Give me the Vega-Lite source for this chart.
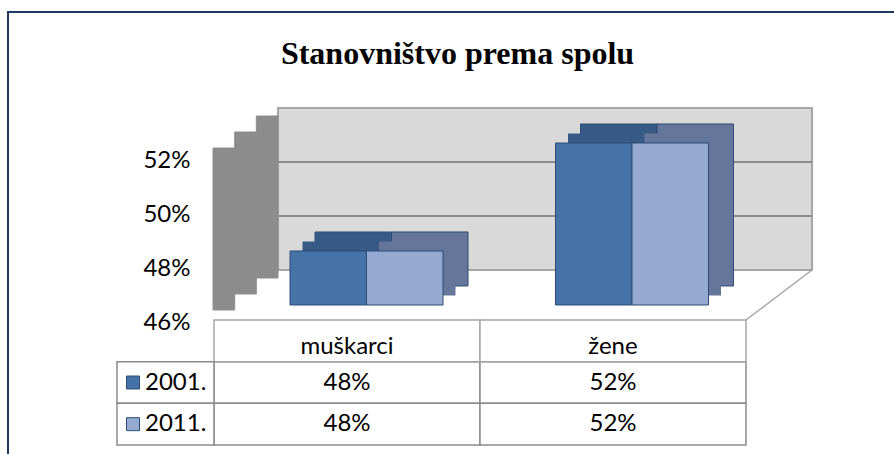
{
  "$schema": "https://vega.github.io/schema/vega-lite/v6.json",
  "width": 894,
  "height": 454,
  "autosize": {"type": "fit", "contains": "padding"},
  "padding": {"left": 8, "top": 12, "right": -3, "bottom": -3},
  "background": "white",
  "title": {
    "text": "Stanovništvo prema spolu",
    "font": "Liberation Serif",
    "fontSize": 32,
    "fontWeight": "bold",
    "color": "#000000",
    "anchor": "middle",
    "frame": "group",
    "orient": "top",
    "baseline": "middle",
    "offset": -43,
    "dx": 5,
    "dy": 31
  },
  "config": {
    "view": {"stroke": "#1F3A60", "strokeWidth": 2},
    "text": {"font": "Lato", "fontSize": 24, "fill": "#000000"}
  },
  "datasets": {
    "udio": [
      {"spol": "muškarci", "godina": "2001.", "udio": 0.48},
      {"spol": "muškarci", "godina": "2011.", "udio": 0.48},
      {"spol": "žene", "godina": "2001.", "udio": 0.52},
      {"spol": "žene", "godina": "2011.", "udio": 0.52}
    ],
    "jedan": [{"k": 1}],
    "mreza": [{"g": 0.48}, {"g": 0.50}]
  },
  "data": {"name": "udio"},
  "layer": [
    {
      "data": {"name": "jedan"},
      "mark": {"type": "rect", "fill": "#D9D9D9", "stroke": "#A6A6A6", "strokeWidth": 2},
      "encoding": {
        "x": {"datum": "muškarci", "type": "nominal", "bandPosition": 0.1667, "scale": {"type": "band", "domain": ["muškarci", "žene"], "paddingInner": 0, "paddingOuter": 0.6742, "align": 0.6306}, "axis": null},
        "x2": {"datum": "žene", "bandPosition": 1.178},
        "y": {"datum": 0.46, "type": "quantitative", "scale": {"domain": [0.39074, 0.55556], "nice": false, "zero": false}, "axis": null},
        "y2": {"datum": 0.52}
      }
    },
    {
      "data": {"name": "mreza"},
      "mark": {"type": "rule", "stroke": "#8C8C8C", "strokeWidth": 2},
      "encoding": {
        "x": {"datum": "muškarci", "type": "nominal", "bandPosition": 0.1667, "scale": {"type": "band", "domain": ["muškarci", "žene"], "paddingInner": 0, "paddingOuter": 0.6742, "align": 0.6306}, "axis": null},
        "x2": {"datum": "žene", "bandPosition": 1.178},
        "y": {"field": "g", "type": "quantitative", "scale": {"domain": [0.39074, 0.55556], "nice": false, "zero": false}, "axis": null}
      }
    },
    {
      "data": {"name": "jedan"},
      "mark": {"type": "rule", "stroke": "#A6A6A6", "strokeWidth": 1.5},
      "encoding": {
        "x": {"datum": "žene", "type": "nominal", "bandPosition": 0.929, "scale": {"type": "band", "domain": ["muškarci", "žene"], "paddingInner": 0, "paddingOuter": 0.6742, "align": 0.6306}, "axis": null},
        "x2": {"datum": "žene", "bandPosition": 1.178},
        "y": {"datum": 0.44148, "type": "quantitative", "scale": {"domain": [0.39074, 0.55556], "nice": false, "zero": false}, "axis": null},
        "y2": {"datum": 0.46}
      }
    },
    {
      "data": {"name": "jedan"},
      "mark": {"type": "rect", "fill": "#8C8C8C", "stroke": "#8C8C8C", "strokeWidth": 1, "yOffset": 5, "y2Offset": 5},
      "encoding": {
        "x": {"datum": "muškarci", "type": "nominal", "bandPosition": -0.078, "scale": {"type": "band", "domain": ["muškarci", "žene"], "paddingInner": 0, "paddingOuter": 0.6742, "align": 0.6306}, "axis": null},
        "x2": {"datum": "muškarci", "bandPosition": 0.0036},
        "y": {"datum": 0.46, "type": "quantitative", "scale": {"domain": [0.4037, 0.56852], "nice": false, "zero": false}, "axis": null},
        "y2": {"datum": 0.52}
      }
    },
    {
      "data": {"name": "jedan"},
      "mark": {"type": "rect", "fill": "#8C8C8C", "stroke": "#8C8C8C", "strokeWidth": 1, "yOffset": -11, "y2Offset": -11},
      "encoding": {
        "x": {"datum": "muškarci", "type": "nominal", "bandPosition": 0.0036, "scale": {"type": "band", "domain": ["muškarci", "žene"], "paddingInner": 0, "paddingOuter": 0.6742, "align": 0.6306}, "axis": null},
        "x2": {"datum": "muškarci", "bandPosition": 0.085},
        "y": {"datum": 0.46, "type": "quantitative", "scale": {"domain": [0.4037, 0.56852], "nice": false, "zero": false}, "axis": null},
        "y2": {"datum": 0.52}
      }
    },
    {
      "data": {"name": "jedan"},
      "mark": {"type": "rect", "fill": "#8C8C8C", "stroke": "#8C8C8C", "strokeWidth": 1, "yOffset": -27, "y2Offset": -27},
      "encoding": {
        "x": {"datum": "muškarci", "type": "nominal", "bandPosition": 0.085, "scale": {"type": "band", "domain": ["muškarci", "žene"], "paddingInner": 0, "paddingOuter": 0.6742, "align": 0.6306}, "axis": null},
        "x2": {"datum": "muškarci", "bandPosition": 0.1667},
        "y": {"datum": 0.46, "type": "quantitative", "scale": {"domain": [0.4037, 0.56852], "nice": false, "zero": false}, "axis": null},
        "y2": {"datum": 0.52}
      }
    },
    {
      "mark": {"type": "bar", "yOffset": -19, "y2Offset": -19, "stroke": "#2C4D75", "strokeWidth": 1},
      "encoding": {
        "x": {"field": "spol", "type": "nominal", "scale": {"type": "band", "domain": ["muškarci", "žene"], "paddingInner": 0, "paddingOuter": 0.6742, "align": 0.6306}, "axis": null},
        "xOffset": {"field": "godina", "type": "nominal", "scale": {"type": "band", "domain": ["2001.", "2011."], "paddingInner": 0, "paddingOuter": 0.7353, "align": 0.7222}},
        "y": {"field": "udio", "type": "quantitative", "scale": {"domain": [0.4037, 0.56852], "nice": false, "zero": false}, "axis": null},
        "y2": {"datum": 0.46},
        "color": {"condition": {"test": "datum.godina === '2001.'", "value": "#375A87"}, "value": "#66769A"}
      }
    },
    {
      "mark": {"type": "bar", "yOffset": -9.5, "y2Offset": -9.5},
      "encoding": {
        "x": {"field": "spol", "type": "nominal", "scale": {"type": "band", "domain": ["muškarci", "žene"], "paddingInner": 0, "paddingOuter": 0.6742, "align": 0.6306}, "axis": null},
        "xOffset": {"field": "godina", "type": "nominal", "scale": {"type": "band", "domain": ["2001.", "2011."], "paddingInner": 0, "paddingOuter": 0.7353, "align": 0.6111}},
        "y": {"field": "udio", "type": "quantitative", "scale": {"domain": [0.4037, 0.56852], "nice": false, "zero": false}, "axis": null},
        "y2": {"datum": 0.46},
        "color": {"condition": {"test": "datum.godina === '2001.'", "value": "#375A87"}, "value": "#66769A"}
      }
    },
    {
      "mark": {"type": "bar", "stroke": "#2C4D75", "strokeWidth": 1},
      "encoding": {
        "x": {"field": "spol", "type": "nominal", "scale": {"type": "band", "domain": ["muškarci", "žene"], "paddingInner": 0, "paddingOuter": 0.6742, "align": 0.6306}, "axis": null},
        "xOffset": {"field": "godina", "type": "nominal", "scale": {"type": "band", "domain": ["2001.", "2011."], "paddingInner": 0, "paddingOuter": 0.7353}},
        "y": {
          "field": "udio",
          "type": "quantitative",
          "scale": {"domain": [0.4037, 0.56852], "nice": false, "zero": false},
          "axis": {
            "orient": "left",
            "values": [0.46, 0.48, 0.50, 0.52],
            "format": ".0%",
            "domain": false,
            "ticks": false,
            "grid": false,
            "title": null,
            "labelPadding": 4,
            "offset": -186,
            "labelOffset": 18,
            "labelFont": "Lato",
            "labelFontSize": 24,
            "labelColor": "#000000"
          }
        },
        "y2": {"datum": 0.46},
        "color": {"field": "godina", "type": "nominal", "scale": {"domain": ["2001.", "2011."], "range": ["#4572A7", "#95A9D1"]}, "legend": null}
      }
    },
    {
      "mark": {"type": "rect", "fill": "white", "stroke": "#8C8C8C", "strokeWidth": 1.5},
      "encoding": {
        "x": {"field": "spol", "type": "nominal", "scale": {"type": "band", "domain": ["muškarci", "žene"], "paddingInner": 0, "paddingOuter": 0.6711, "align": 0.577}, "axis": null},
        "y": {"field": "godina", "type": "nominal", "scale": {"type": "band", "domain": ["hdr", "2001.", "2011."], "range": [308, 433], "paddingInner": 0, "paddingOuter": 0}, "axis": null}
      }
    },
    {
      "transform": [{"filter": "datum.godina === '2001.'"}],
      "mark": {"type": "rect", "fill": "white", "stroke": "#A6A6A6", "strokeWidth": 1.5},
      "encoding": {
        "x": {"field": "spol", "type": "nominal", "scale": {"type": "band", "domain": ["muškarci", "žene"], "paddingInner": 0, "paddingOuter": 0.6711, "align": 0.577}, "axis": null},
        "y": {"datum": "hdr", "type": "nominal", "scale": {"type": "band", "domain": ["hdr", "2001.", "2011."], "range": [308, 433], "paddingInner": 0, "paddingOuter": 0}, "axis": null}
      }
    },
    {
      "mark": {"type": "text"},
      "encoding": {
        "x": {"field": "spol", "type": "nominal", "scale": {"type": "band", "domain": ["muškarci", "žene"], "paddingInner": 0, "paddingOuter": 0.6711, "align": 0.577}, "axis": null},
        "y": {"field": "godina", "type": "nominal", "scale": {"type": "band", "domain": ["hdr", "2001.", "2011."], "range": [308, 433], "paddingInner": 0, "paddingOuter": 0}, "axis": null},
        "text": {"field": "udio", "type": "quantitative", "format": ".0%"}
      }
    },
    {
      "transform": [{"filter": "datum.godina === '2001.'"}],
      "mark": {"type": "text", "dy": 6},
      "encoding": {
        "x": {"field": "spol", "type": "nominal", "scale": {"type": "band", "domain": ["muškarci", "žene"], "paddingInner": 0, "paddingOuter": 0.6711, "align": 0.577}, "axis": null},
        "y": {"datum": "hdr", "type": "nominal", "scale": {"type": "band", "domain": ["hdr", "2001.", "2011."], "range": [308, 433], "paddingInner": 0, "paddingOuter": 0}, "axis": null},
        "text": {"field": "spol", "type": "nominal"}
      }
    },
    {
      "transform": [{"filter": "datum.spol === 'muškarci'"}],
      "mark": {"type": "rect", "fill": "white", "stroke": "#8C8C8C", "strokeWidth": 1.5},
      "encoding": {
        "x": {"datum": "lbl", "type": "nominal", "scale": {"type": "band", "domain": ["lbl"], "range": [109, 206], "paddingInner": 0, "paddingOuter": 0}, "axis": null},
        "y": {"field": "godina", "type": "nominal", "scale": {"type": "band", "domain": ["hdr", "2001.", "2011."], "range": [308, 433], "paddingInner": 0, "paddingOuter": 0}, "axis": null}
      }
    },
    {
      "transform": [{"filter": "datum.spol === 'muškarci'"}],
      "mark": {"type": "point", "shape": "square", "filled": true, "size": 169, "stroke": "#2C4D75", "strokeWidth": 1, "opacity": 1},
      "encoding": {
        "x": {"datum": "lbl", "type": "nominal", "bandPosition": 0.165, "scale": {"type": "band", "domain": ["lbl"], "range": [109, 206], "paddingInner": 0, "paddingOuter": 0}, "axis": null},
        "y": {"field": "godina", "type": "nominal", "scale": {"type": "band", "domain": ["hdr", "2001.", "2011."], "range": [308, 433], "paddingInner": 0, "paddingOuter": 0}, "axis": null},
        "color": {"field": "godina", "type": "nominal", "scale": {"domain": ["2001.", "2011."], "range": ["#4572A7", "#95A9D1"]}, "legend": null}
      }
    },
    {
      "transform": [{"filter": "datum.spol === 'muškarci'"}],
      "mark": {"type": "text", "align": "left"},
      "encoding": {
        "x": {"datum": "lbl", "type": "nominal", "bandPosition": 0.289, "scale": {"type": "band", "domain": ["lbl"], "range": [109, 206], "paddingInner": 0, "paddingOuter": 0}, "axis": null},
        "y": {"field": "godina", "type": "nominal", "scale": {"type": "band", "domain": ["hdr", "2001.", "2011."], "range": [308, 433], "paddingInner": 0, "paddingOuter": 0}, "axis": null},
        "text": {"field": "godina", "type": "nominal"}
      }
    }
  ],
  "resolve": {"scale": {"x": "independent", "y": "independent", "xOffset": "independent"}}
}
